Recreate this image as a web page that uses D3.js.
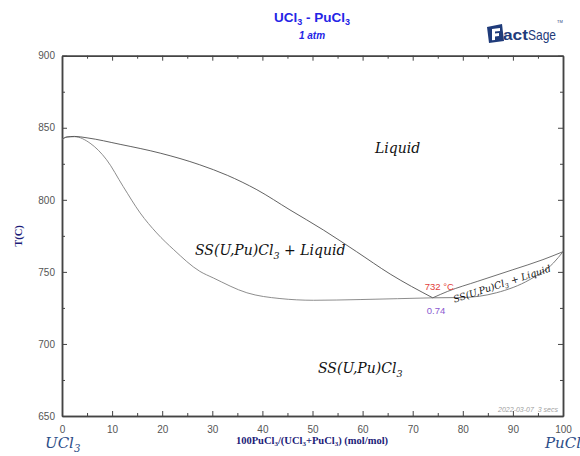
<!DOCTYPE html>
<head>
	<meta charset="utf-8">
	<title>UCl3 - PuCl3</title>
<style>
	body {
		margin:0;
		background-color: #ffffff;
		font-family: Arial, "Liberation Sans", sans-serif;
	}
	svg { display:block; }
	.math {
		/* de fase-labels */
		font-family: "DejaVu Serif", serif;
		font-style: italic;
		fill: #111111;
	}
	.tick text { fill:#555555; font-size:10px; font-family: Arial, "Liberation Sans", sans-serif; }
	.tick line { stroke:#444444; }
	.domain { stroke:#444444; stroke-width:1.5px; }
</style>
</head>
<script src="https://d3js.org/d3.v7.min.js"></script>
<body>
	<script>
	    var width = 580;
	    var height = 456;

	    // data, [x (mol%), T (C)]
	    var liquidusLeft = [[0,842],[1,843.6],[2.5,844],[5,843],[11.6,838.5],[19.6,832.4],[27.5,824.3],[33,817],[38.9,807],[45.5,793],[52.2,779],[58.8,764],[65.5,748.5],[74,732]];
	    var solidusLeft = [[0,842],[1,843.6],[2.5,843.8],[5.6,839.3],[8.9,827.8],[12.2,809.3],[15.6,790.9],[18.9,777],[22.3,765.4],[27.5,750.4],[30.2,745.8],[36.9,735.5],[43.5,731.5],[50.2,730.3],[59.5,730.8],[67,731.4],[74,732]];
	    var liquidusRight = [[74,732],[77,736.5],[83,743.5],[90,751.5],[96,758.5],[100,764]];
	    var solidusRight = [[74,732],[80,732.2],[86.7,735.5],[93.4,744.7],[98.1,756.2],[100,764]];
	    var xMajor = d3.range(0, 101, 10);
	    var xMinor = d3.range(5, 100, 10);
	    var yMajor = [650, 700, 750, 800, 850, 900];
	    var yMinor = [675, 725, 775, 825, 875];
	    var eutectic = {x: 74, T: 732, labelT: "732 °C", labelX: "0.74"};

	    var svg = d3.select("body").append("svg")
	    	.attr("width", width)
	    	.attr("height", height);

	    var x = d3.scaleLinear().domain([0, 100]).range([62, 563]);
	    var y = d3.scaleLinear().domain([650, 900]).range([416, 55.7]);

	    // assen, tikken naar binnen
	    function axes(g, maker, scale, major, minor, labels) {
	    	g.append("g").call(maker(scale).tickValues(major).tickSize(-5).tickSizeOuter(0)
	    		.tickFormat(labels ? d3.format("d") : ""))
	    	g.append("g").call(maker(scale).tickValues(minor).tickSize(-3).tickSizeOuter(0).tickFormat(""))
	    	return g;
	    }
	    var bottom = axes(svg.append("g").attr("transform", "translate(0,416)"), d3.axisBottom, x, xMajor, xMinor, true);
	    axes(svg.append("g").attr("transform", "translate(0,55.7)"), d3.axisTop, x, xMajor, xMinor, false);
	    var left = axes(svg.append("g").attr("transform", "translate(62,0)"), d3.axisLeft, y, yMajor, yMinor, true);
	    axes(svg.append("g").attr("transform", "translate(563,0)"), d3.axisRight, y, yMajor, yMinor, false);
	    bottom.selectAll(".tick text").attr("y", 8).attr("dy", "0.9em");
	    left.selectAll(".tick text").attr("x", -7);

	    var line = d3.line()
	    	.x(function(d) { return x(d[0]); })
	    	.y(function(d) { return y(d[1]); })
	    	.curve(d3.curveMonotoneX);

	    var curves = svg.append("g").attr("fill", "none").attr("stroke-width", 0.9);
	    curves.append("path").attr("d", line(solidusLeft)).attr("stroke", "#808080");
	    curves.append("path").attr("d", line(liquidusLeft)).attr("stroke", "#505050");
	    curves.append("path").attr("d", line(solidusRight)).attr("stroke", "#707070");
	    curves.append("path").attr("d", line(liquidusRight)).attr("stroke", "#606060");

	    // titel
	    var title = svg.append("text").attr("x", 312).attr("y", 22).attr("text-anchor", "middle")
	    	.style("font-weight", "bold").style("font-size", "13.5px").style("fill", "#2424e6");
	    title.append("tspan").text("UCl");
	    title.append("tspan").text("3").attr("dy", 3).style("font-size", "9px");
	    title.append("tspan").text(" - PuCl").attr("dy", -3);
	    title.append("tspan").text("3").attr("dy", 3).style("font-size", "9px");
	    svg.append("text").attr("x", 312).attr("y", 39).attr("text-anchor", "middle")
	    	.style("font-weight", "bold").style("font-style", "italic").style("font-size", "10px").style("fill", "#2424e6")
	    	.text("1 atm");

	    // FactSage logo
	    var logo = svg.append("g").attr("transform", "translate(485,24)");
	    logo.append("path").attr("d", "M2,3 L17,0 L19,17 L4,19 Z").attr("fill", "#1f3b7a");
	    logo.append("path").attr("d", "M7,5 L15,4 L15,7 L10,7.5 L10,9.5 L14,9 L14,12 L10,12.5 L10,16 L7,16.3 Z").attr("fill", "#ffffff");
	    logo.append("text").attr("x", 18).attr("y", 16).style("font-weight", "bold").style("font-size", "15px")
	    	.style("fill", "#1f3b7a").attr("textLength", 25).attr("lengthAdjust", "spacingAndGlyphs").text("act");
	    logo.append("text").attr("x", 43).attr("y", 16).style("font-size", "15px")
	    	.style("fill", "#1f3b7a").attr("textLength", 28).attr("lengthAdjust", "spacingAndGlyphs").text("Sage");
	    logo.append("text").attr("x", 72).attr("y", -1).style("font-size", "4px").style("fill", "#1f3b7a").text("TM");

	    // as-titels
	    svg.append("text").attr("transform", "translate(22,236) rotate(-90)").attr("text-anchor", "middle")
	    	.style("font-family", "'Liberation Serif', serif").style("font-weight", "bold").style("font-size", "10.5px")
	    	.style("fill", "#1c1c78").text("T(C)");
	    var xt = svg.append("text").attr("x", 312).attr("y", 444).attr("text-anchor", "middle")
	    	.style("font-family", "'Liberation Serif', serif").style("font-weight", "bold").style("font-size", "10.5px")
	    	.style("fill", "#1c1c78");
	    xt.append("tspan").text("100PuCl");
	    xt.append("tspan").text("3").attr("dy", 2).style("font-size", "7px");
	    xt.append("tspan").text("/(UCl").attr("dy", -2);
	    xt.append("tspan").text("3").attr("dy", 2).style("font-size", "7px");
	    xt.append("tspan").text("+PuCl").attr("dy", -2);
	    xt.append("tspan").text("3").attr("dy", 2).style("font-size", "7px");
	    xt.append("tspan").text(") (mol/mol)").attr("dy", -2);

	    // chemische formules met subscript: getallen worden subscript
	    function formula(parent, px, py, size, parts, anchor) {
	    	var t = parent.append("text").attr("class", "math").attr("x", px).attr("y", py)
	    		.attr("text-anchor", anchor || "start").style("font-size", size + "px");
	    	var sub = false;
	    	parts.forEach(function(p) {
	    		if (typeof p === "number") {
	    			t.append("tspan").text(p).attr("dy", size * 0.25).style("font-size", (size * 0.68) + "px");
	    			sub = true;
	    		} else {
	    			t.append("tspan").text(p).attr("dy", sub ? -size * 0.25 : 0);
	    			sub = false;
	    		}
	    	});
	    	return t;
	    }
	    formula(svg, 45, 448, 15, ["UCl", 3]).style("fill", "#2c4d88");
	    formula(svg, 545, 448, 15, ["PuCl", 3]).style("fill", "#2c4d88");

	    formula(svg, 375, 153, 14, ["Liquid"]);
	    formula(svg, 195, 255, 14, ["SS(U,Pu)Cl", 3, " + Liquid"]);
	    formula(svg, 318, 373, 14, ["SS(U,Pu)Cl", 3]);
	    formula(svg.append("g").attr("transform", "translate(503,287) rotate(-18)"), 0, 0, 9.5,
	    	["SS(U,Pu)Cl", 3, " + Liquid"], "middle");

	    // eutecticum
	    svg.append("text").attr("x", x(eutectic.x) - 8).attr("y", 290).style("font-size", "9.5px").style("fill", "#e2403a")
	    	.text(eutectic.labelT);
	    svg.append("text").attr("x", x(eutectic.x) - 6).attr("y", 314).style("font-size", "9.5px").style("fill", "#8a5ad0")
	    	.text(eutectic.labelX);

	    svg.append("text").attr("x", 558).attr("y", 412).attr("text-anchor", "end")
	    	.style("font-size", "7px").style("font-style", "italic").style("fill", "#a0a0a0")
	    	.attr("xml:space", "preserve").text("2022-03-07  3 secs");
	</script>
</body>
